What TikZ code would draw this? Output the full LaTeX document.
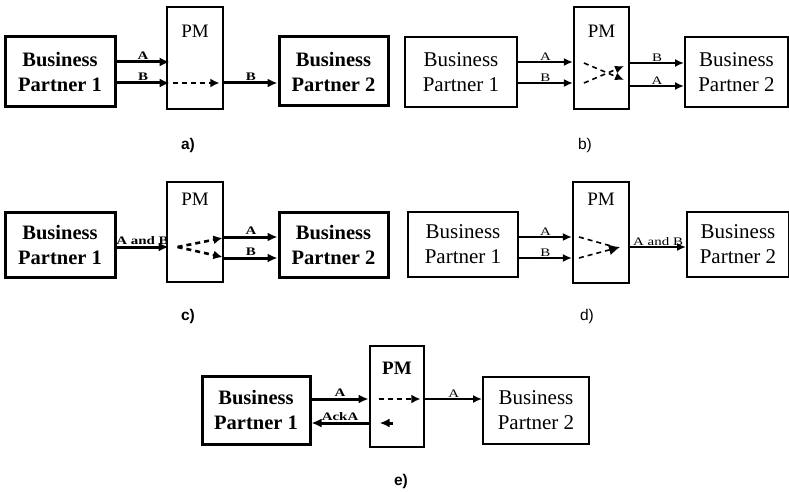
\documentclass[tikz,border=0pt]{standalone}
\usepackage{fontspec}
\usepackage{graphicx}
\setmainfont{Liberation Serif}
\newfontfamily\capfont{Liberation Sans}
\usetikzlibrary{arrows.meta,calc}
% small message labels are set a little wider than normal
\newcommand{\msg}[1]{\scalebox{1.3}[1]{#1}}

\tikzset{
  heavybox/.style={draw, line width=3pt, inner sep=0pt, align=center,
    font=\fontsize{20.5}{25}\selectfont\bfseries},
  lightbox/.style={draw, line width=1.9pt, inner sep=0pt, align=center,
    font=\fontsize{21}{25}\selectfont},
  heavypm/.style={draw, line width=2.8pt, inner sep=0pt},
  lightpm/.style={draw, line width=2.1pt, inner sep=0pt},
  pmtext/.style={inner sep=0pt, font=\fontsize{19}{19}\selectfont},
  heavyflow/.style={line width=3pt, -{Latex[length=10pt,width=9pt]}},
  lightflow/.style={line width=1.9pt, -{Latex[length=9pt,width=8pt]}},
  heavyinner/.style={line width=2.6pt, dash pattern=on 5pt off 4pt, -{Latex[length=9pt,width=9pt]}},
  lightinner/.style={line width=1.6pt, dash pattern=on 5pt off 4pt, -{Latex[length=9pt,width=8pt]}},
  heavylbl/.style={midway, above, inner sep=0.6pt, font=\fontsize{11.5}{11.5}\selectfont\bfseries},
  lightlbl/.style={midway, above, inner sep=0.6pt, font=\fontsize{11.5}{11.5}\selectfont},
  heavycap/.style={inner sep=0pt, font=\capfont\fontsize{15.5}{15.5}\selectfont\bfseries},
  lightcap/.style={inner sep=0pt, font=\capfont\fontsize{15.5}{15.5}\selectfont},
}

\begin{document}
\begin{tikzpicture}[x=1pt, y=-1pt]
\useasboundingbox (0,0) rectangle (789,492);

% ---------------- a) forwarding B, holding A ----------------
\node[heavybox, minimum width=110pt, minimum height=70pt] (bp1a) at (60,72) {Business\\Partner 1};
\node[heavypm, minimum width=56pt, minimum height=102pt] (pma) at (195,58) {};
\node[pmtext] (pmla) at (195,31) {PM};
\node[heavybox, minimum width=109pt, minimum height=69pt] (bp2a) at (333.5,71.5) {Business\\Partner 2};
\coordinate (la1) at (0,62);
\coordinate (la2) at (0,83);
\draw[heavyflow] (bp1a.east |- la1) -- ($(pma.west |- la1)+(4,0)$) node[heavylbl] {\msg{A}};
\draw[heavyflow] (bp1a.east |- la2) -- ($(pma.west |- la2)+(4,0)$) node[heavylbl] {\msg{B}};
\draw[heavyinner] ($(pma.west |- la2)+(7,0)$) -- ($(pma.east |- la2)+(-5,0)$);
\draw[heavyflow] (pma.east |- la2) -- (bp2a.west |- la2) node[heavylbl] {\msg{B}};
\node[heavycap] (capa) at (188,145) {a)};

% ---------------- b) reordering ----------------
\node[lightbox, minimum width=112pt, minimum height=70pt] (bp1b) at (461,72) {Business\\Partner 1};
\node[lightpm, minimum width=55pt, minimum height=102pt] (pmb) at (601.5,58) {};
\node[pmtext] (pmlb) at (601.5,31) {PM};
\node[lightbox, minimum width=103pt, minimum height=70pt] (bp2b) at (736.5,72) {Business\\Partner 2};
\coordinate (lb1) at (0,62);
\coordinate (lb2) at (0,83);
\coordinate (lb3) at (0,63);
\coordinate (lb4) at (0,86);
\draw[lightflow] (bp1b.east |- lb1) -- (pmb.west |- lb1) node[lightlbl] {\msg{A}};
\draw[lightflow] (bp1b.east |- lb2) -- (pmb.west |- lb2) node[lightlbl] {\msg{B}};
\draw[lightinner] ($(pmb.west |- lb1)+(11,1)$) -- ($(pmb.east |- lb2)+(-6,-3)$);
\draw[lightinner] ($(pmb.west |- lb2)+(11,0)$) -- ($(pmb.east |- lb1)+(-6,4)$);
\draw[lightflow] (pmb.east |- lb3) -- (bp2b.west |- lb3) node[lightlbl] {\msg{B}};
\draw[lightflow] (pmb.east |- lb4) -- (bp2b.west |- lb4) node[lightlbl] {\msg{A}};
\node[lightcap] (capb) at (585,145) {b)};

% ---------------- c) splitting ----------------
\node[heavybox, minimum width=110pt, minimum height=65pt] (bp1c) at (60,244.5) {Business\\Partner 1};
\node[heavypm, minimum width=56pt, minimum height=100pt] (pmc) at (195,232) {};
\node[pmtext] (pmlc) at (195,199) {PM};
\node[heavybox, minimum width=109pt, minimum height=65pt] (bp2c) at (333.5,244.5) {Business\\Partner 2};
\coordinate (lc0) at (0,247);
\coordinate (lc1) at (0,237);
\coordinate (lc2) at (0,258);
\draw[heavyflow] (bp1c.east |- lc0) -- ($(pmc.west |- lc0)+(3,0)$) node[heavylbl] {\msg{A and B}};
\draw[heavyinner] ($(pmc.west |- lc0)+(12,0)$) -- ($(pmc.east |- lc1)+(-2,1)$);
\draw[heavyinner] ($(pmc.west |- lc0)+(12,0)$) -- ($(pmc.east |- lc2)+(-2,-1)$);
\draw[heavyflow] (pmc.east |- lc1) -- (bp2c.west |- lc1) node[heavylbl] {\msg{A}};
\draw[heavyflow] (pmc.east |- lc2) -- (bp2c.west |- lc2) node[heavylbl] {\msg{B}};
\node[heavycap] (capc) at (188,316) {c)};

% ---------------- d) merging ----------------
\node[lightbox, minimum width=110pt, minimum height=65pt] (bp1d) at (463,244.5) {Business\\Partner 1};
\node[lightpm, minimum width=56pt, minimum height=101pt] (pmd) at (601,232.5) {};
\node[pmtext] (pmld) at (601,199) {PM};
\node[lightbox, minimum width=102pt, minimum height=65pt] (bp2d) at (738,244.5) {Business\\Partner 2};
\coordinate (ld0) at (0,247);
\coordinate (ld1) at (0,237);
\coordinate (ld2) at (0,258);
\draw[lightflow] (bp1d.east |- ld1) -- (pmd.west |- ld1) node[lightlbl] {\msg{A}};
\draw[lightflow] (bp1d.east |- ld2) -- (pmd.west |- ld2) node[lightlbl] {\msg{B}};
\draw[line width=1.6pt, dash pattern=on 5pt off 4pt] ($(pmd.west |- ld1)+(7,0)$) -- ($(pmd.east |- ld0)+(-19,-1)$);
\draw[line width=1.6pt, dash pattern=on 5pt off 4pt, -{Latex[length=11pt,width=11pt]}] ($(pmd.west |- ld2)+(7,0)$) -- ($(pmd.east |- ld0)+(-10,0)$);
\draw[lightflow] (pmd.east |- ld0) -- (bp2d.west |- ld0) node[lightlbl] {\msg{A and B}};
\node[lightcap] (capd) at (587,316) {d)};

% ---------------- e) acknowledging ----------------
\node[heavybox, minimum width=108pt, minimum height=68pt] (bp1e) at (256,410) {Business\\Partner 1};
\node[heavypm, minimum width=54pt, minimum height=101pt] (pme) at (397,396.5) {};
\node[pmtext] (pmle) at (397,368.5) {\bfseries PM};
\node[lightbox, minimum width=106pt, minimum height=67pt] (bp2e) at (536,410.5) {Business\\Partner 2};
\coordinate (le1) at (0,399);
\coordinate (le2) at (0,423);
\draw[heavyflow] (bp1e.east |- le1) -- (pme.west |- le1) node[heavylbl] {\msg{A}};
\draw[heavyflow] (pme.west |- le2) -- (bp1e.east |- le2) node[heavylbl] {\msg{AckA}};
\draw[heavyinner] ($(pme.west |- le1)+(10,0)$) -- ($(pme.east |- le1)+(-5,0)$);
\draw[heavyflow] ($(pme.west |- le2)+(24,0)$) -- ($(pme.west |- le2)+(11,0)$);
\draw[lightflow] (pme.east |- le1) -- (bp2e.west |- le1) node[lightlbl] {\msg{A}};
\node[heavycap] (cape) at (401,481) {e)};

\end{tikzpicture}
\end{document}
